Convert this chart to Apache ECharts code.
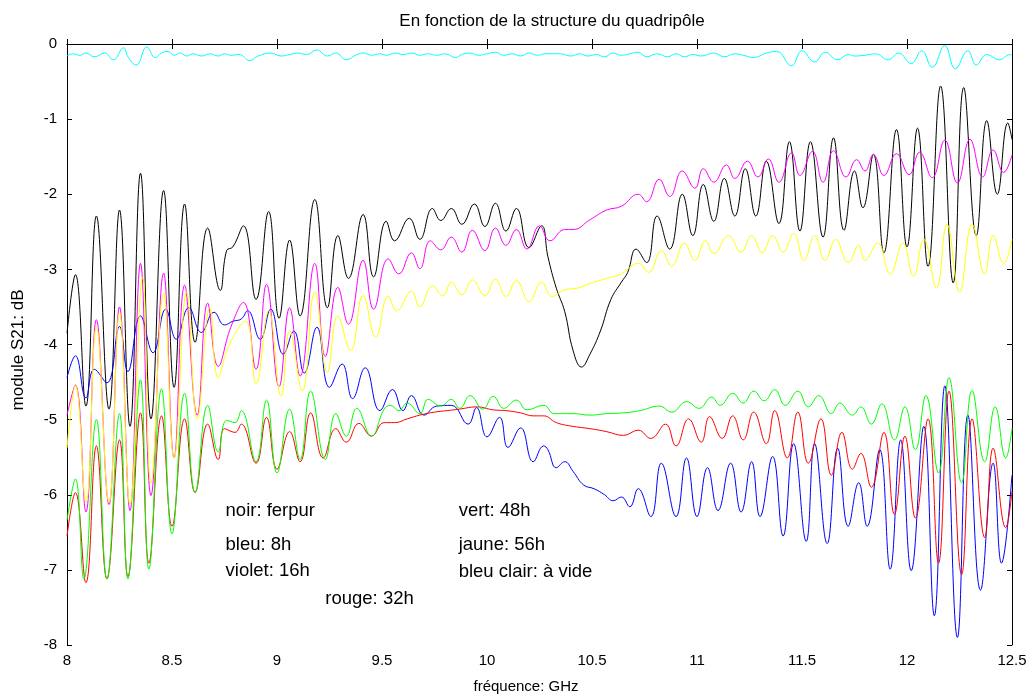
<!DOCTYPE html>
<html>
<head>
<meta charset="utf-8">
<script src="https://cdn.jsdelivr.net/npm/echarts@6/dist/echarts.min.js"></script>
<style>
  html, body { margin: 0; padding: 0; background: #ffffff; }
  #chart { width: 1035px; height: 697px; }
</style>
</head>
<body>
<div id="chart"></div>
<script>
// S21 magnitude (dB) versus frequency (GHz), one curve per sample
const xTicks = [8, 8.5, 9, 9.5, 10, 10.5, 11, 11.5, 12, 12.5];
const yTicks = [0, -1, -2, -3, -4, -5, -6, -7, -8];

// noir: ferpur
const noir = [[8.00,-3.85],[8.04,-3.07],[8.09,-4.82],[8.14,-2.29],[8.20,-4.86],[8.25,-2.21],[8.30,-5.09],[8.35,-1.72],[8.40,-4.99],[8.46,-1.95],[8.51,-4.57],[8.56,-2.13],[8.61,-3.97],[8.67,-2.45],[8.73,-3.28],[8.76,-2.75],[8.79,-2.70],[8.84,-2.42],[8.90,-3.40],[8.96,-2.23],[9.01,-3.65],[9.06,-2.61],[9.11,-3.62],[9.18,-2.07],[9.24,-3.51],[9.29,-2.55],[9.34,-3.12],[9.41,-2.27],[9.46,-3.10],[9.52,-2.36],[9.56,-2.62],[9.63,-2.32],[9.68,-2.60],[9.74,-2.19],[9.78,-2.35],[9.83,-2.19],[9.88,-2.40],[9.94,-2.13],[9.99,-2.43],[10.04,-2.12],[10.09,-2.49],[10.14,-2.19],[10.20,-2.71],[10.26,-2.42],[10.29,-2.83],[10.33,-3.25],[10.37,-3.56],[10.41,-4.08],[10.45,-4.30],[10.49,-4.13],[10.54,-3.82],[10.59,-3.40],[10.64,-3.17],[10.67,-3.04],[10.71,-2.73],[10.76,-2.91],[10.81,-2.29],[10.87,-2.73],[10.93,-2.00],[10.98,-2.55],[11.03,-1.87],[11.08,-2.36],[11.13,-1.79],[11.18,-2.29],[11.23,-1.66],[11.28,-2.29],[11.33,-1.56],[11.39,-2.39],[11.44,-1.30],[11.49,-2.49],[11.54,-1.30],[11.60,-2.57],[11.65,-1.25],[11.70,-2.48],[11.75,-1.69],[11.79,-2.18],[11.84,-1.47],[11.89,-2.78],[11.95,-1.14],[12.00,-2.70],[12.05,-1.12],[12.10,-2.96],[12.16,-0.56],[12.22,-3.18],[12.27,-0.58],[12.33,-2.55],[12.38,-1.02],[12.43,-2.00],[12.48,-1.05],[12.50,-1.27]];

// bleu: 8h
const bleu = [[8.00,-4.44],[8.04,-4.15],[8.09,-4.71],[8.13,-4.33],[8.19,-4.51],[8.25,-3.76],[8.29,-4.36],[8.35,-3.62],[8.41,-4.11],[8.47,-3.53],[8.52,-3.93],[8.58,-3.51],[8.64,-3.84],[8.70,-3.57],[8.75,-3.74],[8.79,-3.69],[8.83,-3.66],[8.86,-3.55],[8.92,-3.93],[8.97,-3.53],[9.03,-4.13],[9.08,-3.82],[9.13,-4.38],[9.19,-3.77],[9.25,-4.57],[9.31,-4.26],[9.36,-4.72],[9.42,-4.31],[9.49,-4.88],[9.55,-4.60],[9.60,-4.88],[9.64,-4.68],[9.70,-4.94],[9.76,-4.82],[9.83,-4.81],[9.91,-5.06],[9.95,-4.84],[10.00,-5.23],[10.06,-4.97],[10.10,-5.37],[10.16,-5.11],[10.22,-5.56],[10.27,-5.35],[10.29,-5.40],[10.33,-5.64],[10.37,-5.56],[10.41,-5.69],[10.46,-5.87],[10.51,-5.92],[10.56,-6.00],[10.60,-6.08],[10.64,-6.03],[10.68,-6.16],[10.72,-5.92],[10.78,-6.29],[10.83,-5.58],[10.90,-6.29],[10.95,-5.51],[11.00,-6.29],[11.05,-5.64],[11.10,-6.21],[11.16,-5.58],[11.21,-6.23],[11.26,-5.56],[11.30,-6.29],[11.36,-5.49],[11.41,-6.55],[11.46,-5.32],[11.52,-6.62],[11.56,-5.32],[11.62,-6.65],[11.67,-5.38],[11.72,-6.42],[11.77,-5.84],[11.81,-6.42],[11.87,-5.40],[11.92,-6.99],[11.97,-5.27],[12.02,-7.01],[12.08,-5.09],[12.13,-7.61],[12.18,-4.55],[12.24,-7.90],[12.29,-4.94],[12.35,-7.27],[12.41,-5.58],[12.45,-6.91],[12.50,-5.74]];

// violet: 16h
const violet = [[8.00,-4.94],[8.04,-4.54],[8.09,-6.23],[8.14,-3.67],[8.20,-6.13],[8.25,-3.50],[8.30,-6.21],[8.35,-2.92],[8.40,-6.01],[8.46,-3.05],[8.51,-5.51],[8.56,-3.21],[8.62,-4.94],[8.67,-3.45],[8.72,-4.29],[8.78,-3.77],[8.84,-3.44],[8.90,-4.33],[8.95,-3.20],[9.01,-4.56],[9.06,-3.51],[9.11,-4.42],[9.18,-2.92],[9.23,-4.16],[9.29,-3.24],[9.34,-3.73],[9.41,-2.88],[9.46,-3.53],[9.53,-2.86],[9.58,-3.06],[9.64,-2.78],[9.68,-2.99],[9.73,-2.62],[9.78,-2.74],[9.83,-2.57],[9.88,-2.77],[9.93,-2.48],[9.99,-2.75],[10.04,-2.45],[10.09,-2.68],[10.14,-2.47],[10.19,-2.73],[10.25,-2.42],[10.30,-2.62],[10.37,-2.47],[10.41,-2.47],[10.49,-2.34],[10.57,-2.21],[10.64,-2.16],[10.72,-2.00],[10.76,-2.10],[10.82,-1.80],[10.87,-2.03],[10.93,-1.69],[10.99,-1.92],[11.03,-1.66],[11.08,-1.84],[11.14,-1.61],[11.18,-1.79],[11.24,-1.56],[11.29,-1.77],[11.34,-1.53],[11.39,-1.84],[11.45,-1.45],[11.49,-1.75],[11.55,-1.43],[11.60,-1.84],[11.65,-1.42],[11.71,-1.77],[11.76,-1.54],[11.80,-1.69],[11.84,-1.47],[11.89,-1.75],[11.95,-1.46],[12.01,-1.74],[12.06,-1.44],[12.12,-1.78],[12.18,-1.28],[12.24,-1.85],[12.30,-1.27],[12.36,-1.77],[12.41,-1.41],[12.46,-1.71],[12.50,-1.48]];

// rouge: 32h
const rouge = [[8.00,-6.55],[8.04,-5.97],[8.09,-7.17],[8.14,-5.35],[8.19,-7.12],[8.25,-5.27],[8.29,-7.09],[8.35,-4.91],[8.39,-6.91],[8.45,-4.95],[8.50,-6.42],[8.56,-4.99],[8.61,-5.97],[8.67,-5.06],[8.72,-5.53],[8.75,-5.12],[8.80,-5.17],[8.83,-5.06],[8.90,-5.58],[8.95,-4.97],[9.00,-5.66],[9.06,-5.16],[9.11,-5.56],[9.16,-4.91],[9.22,-5.51],[9.28,-5.12],[9.33,-5.30],[9.39,-5.05],[9.45,-5.22],[9.51,-5.04],[9.56,-5.04],[9.62,-4.99],[9.68,-4.94],[9.75,-4.90],[9.81,-4.88],[9.87,-4.86],[9.95,-4.83],[10.03,-4.87],[10.09,-4.88],[10.16,-4.91],[10.22,-4.95],[10.27,-4.95],[10.33,-5.04],[10.41,-5.09],[10.49,-5.12],[10.57,-5.16],[10.65,-5.21],[10.72,-5.14],[10.78,-5.25],[10.85,-5.06],[10.90,-5.35],[10.96,-4.99],[11.02,-5.30],[11.06,-4.96],[11.12,-5.25],[11.17,-4.95],[11.22,-5.27],[11.27,-4.90],[11.33,-5.32],[11.37,-4.88],[11.43,-5.51],[11.48,-4.90],[11.53,-5.58],[11.59,-4.99],[11.64,-5.74],[11.69,-5.17],[11.74,-5.66],[11.78,-5.45],[11.83,-5.90],[11.89,-5.17],[11.94,-6.26],[11.99,-5.22],[12.04,-6.31],[12.10,-4.99],[12.15,-6.91],[12.20,-4.62],[12.26,-7.06],[12.31,-4.99],[12.37,-6.57],[12.41,-5.38],[12.47,-6.44],[12.50,-5.95]];

// vert: 48h
const vert = [[8.00,-6.34],[8.04,-5.79],[8.08,-7.12],[8.14,-5.00],[8.19,-7.12],[8.25,-4.92],[8.29,-7.12],[8.35,-4.47],[8.39,-6.99],[8.45,-4.59],[8.50,-6.52],[8.56,-4.65],[8.61,-5.97],[8.67,-4.81],[8.72,-5.43],[8.76,-5.01],[8.80,-5.04],[8.83,-4.88],[8.90,-5.56],[8.95,-4.74],[9.00,-5.71],[9.06,-4.86],[9.11,-5.53],[9.16,-4.62],[9.23,-5.53],[9.28,-4.92],[9.33,-5.22],[9.38,-4.85],[9.45,-5.22],[9.51,-4.86],[9.54,-4.81],[9.58,-4.88],[9.62,-4.78],[9.68,-4.92],[9.72,-4.73],[9.78,-4.82],[9.83,-4.73],[9.87,-4.85],[9.92,-4.68],[9.98,-4.86],[10.03,-4.69],[10.08,-4.85],[10.14,-4.74],[10.19,-4.87],[10.27,-4.81],[10.32,-4.92],[10.41,-4.92],[10.49,-4.94],[10.57,-4.92],[10.65,-4.91],[10.73,-4.88],[10.82,-4.82],[10.88,-4.90],[10.95,-4.76],[11.01,-4.85],[11.07,-4.70],[11.11,-4.81],[11.17,-4.65],[11.22,-4.78],[11.27,-4.62],[11.32,-4.75],[11.37,-4.60],[11.42,-4.81],[11.48,-4.62],[11.53,-4.83],[11.58,-4.68],[11.64,-4.92],[11.68,-4.78],[11.74,-4.94],[11.78,-4.83],[11.83,-5.06],[11.88,-4.79],[11.94,-5.27],[11.99,-4.83],[12.04,-5.40],[12.09,-4.68],[12.15,-5.71],[12.20,-4.44],[12.26,-5.84],[12.31,-4.61],[12.37,-5.56],[12.42,-4.83],[12.47,-5.51],[12.50,-5.12]];

// jaune: 56h
const jaune = [[8.00,-5.38],[8.04,-4.55],[8.09,-6.10],[8.14,-3.77],[8.20,-6.10],[8.25,-3.58],[8.30,-6.13],[8.36,-3.10],[8.40,-5.84],[8.46,-3.32],[8.51,-5.51],[8.57,-3.30],[8.62,-4.99],[8.68,-3.51],[8.72,-4.44],[8.77,-4.02],[8.85,-3.69],[8.90,-4.53],[8.96,-3.55],[9.02,-4.69],[9.06,-3.82],[9.12,-4.62],[9.18,-3.30],[9.24,-4.37],[9.29,-3.62],[9.35,-4.08],[9.41,-3.35],[9.47,-3.90],[9.53,-3.36],[9.57,-3.55],[9.64,-3.29],[9.68,-3.50],[9.74,-3.22],[9.79,-3.35],[9.83,-3.17],[9.88,-3.34],[9.93,-3.14],[9.99,-3.35],[10.04,-3.13],[10.09,-3.36],[10.14,-3.15],[10.20,-3.43],[10.26,-3.17],[10.31,-3.36],[10.37,-3.27],[10.43,-3.25],[10.49,-3.19],[10.57,-3.12],[10.64,-3.06],[10.72,-2.92],[10.77,-3.04],[10.83,-2.75],[10.88,-2.96],[10.94,-2.65],[10.99,-2.88],[11.04,-2.62],[11.08,-2.79],[11.15,-2.55],[11.21,-2.77],[11.26,-2.55],[11.31,-2.78],[11.36,-2.55],[11.41,-2.77],[11.46,-2.52],[11.51,-2.88],[11.56,-2.55],[11.61,-2.88],[11.66,-2.60],[11.72,-2.91],[11.77,-2.68],[11.80,-2.88],[11.86,-2.65],[11.92,-3.06],[11.98,-2.65],[12.03,-3.09],[12.08,-2.60],[12.14,-3.25],[12.19,-2.40],[12.25,-3.30],[12.31,-2.40],[12.37,-3.06],[12.41,-2.55],[12.46,-2.92],[12.50,-2.60]];

// bleu clair: à vide
const bleuClair = [[8.00,-0.16],[8.03,-0.13],[8.06,-0.15],[8.09,-0.12],[8.13,-0.17],[8.18,-0.12],[8.22,-0.21],[8.27,-0.05],[8.29,-0.17],[8.33,-0.28],[8.38,-0.04],[8.42,-0.18],[8.45,-0.12],[8.48,-0.10],[8.51,-0.15],[8.54,-0.12],[8.57,-0.16],[8.60,-0.13],[8.64,-0.16],[8.68,-0.13],[8.72,-0.16],[8.75,-0.13],[8.78,-0.15],[8.82,-0.14],[8.87,-0.22],[8.91,-0.16],[8.97,-0.12],[9.02,-0.16],[9.06,-0.14],[9.10,-0.12],[9.14,-0.14],[9.19,-0.08],[9.24,-0.16],[9.28,-0.12],[9.33,-0.21],[9.38,-0.14],[9.41,-0.12],[9.45,-0.15],[9.49,-0.13],[9.52,-0.15],[9.56,-0.12],[9.60,-0.14],[9.64,-0.12],[9.68,-0.15],[9.72,-0.13],[9.76,-0.15],[9.80,-0.13],[9.85,-0.18],[9.88,-0.14],[9.92,-0.12],[9.96,-0.15],[10.00,-0.13],[10.04,-0.11],[10.08,-0.15],[10.12,-0.13],[10.16,-0.16],[10.20,-0.12],[10.24,-0.15],[10.28,-0.13],[10.35,-0.13],[10.40,-0.16],[10.44,-0.13],[10.48,-0.16],[10.52,-0.14],[10.56,-0.17],[10.60,-0.12],[10.64,-0.15],[10.68,-0.13],[10.72,-0.11],[10.76,-0.17],[10.81,-0.13],[10.86,-0.17],[10.90,-0.13],[10.94,-0.17],[10.98,-0.14],[11.02,-0.16],[11.08,-0.12],[11.13,-0.17],[11.18,-0.13],[11.22,-0.15],[11.27,-0.18],[11.33,-0.12],[11.38,-0.10],[11.45,-0.29],[11.50,-0.09],[11.56,-0.24],[11.61,-0.11],[11.67,-0.21],[11.72,-0.14],[11.75,-0.16],[11.80,-0.15],[11.85,-0.13],[11.91,-0.21],[11.96,-0.12],[12.02,-0.26],[12.07,-0.09],[12.12,-0.31],[12.18,-0.02],[12.23,-0.33],[12.29,-0.09],[12.33,-0.28],[12.38,-0.14],[12.44,-0.21],[12.49,-0.14],[12.50,-0.15]];

// in-plot captions and where they sit, in (GHz, dB)
const captions = ['noir: ferpur', 'bleu: 8h', 'violet: 16h', 'rouge: 32h', 'vert: 48h', 'jaune: 56h', 'bleu clair: à vide'];
const captionAt = [[8.755,-6.22],[8.755,-6.67],[8.755,-7.01],[9.23,-7.39],[9.865,-6.22],[9.865,-6.67],[9.865,-7.03]];

const FONT = 'Liberation Sans, Arial, sans-serif';
const chart = echarts.init(document.getElementById('chart'), null, { renderer: 'canvas' });

const curves = [
  { name: 'noir', data: noir, color: '#000000' },
  { name: 'bleu', data: bleu, color: '#0000ff' },
  { name: 'violet', data: violet, color: '#ff00ff' },
  { name: 'rouge', data: rouge, color: '#ff0000' },
  { name: 'vert', data: vert, color: '#00ff00' },
  { name: 'jaune', data: jaune, color: '#ffff00' },
  { name: 'bleu clair', data: bleuClair, color: '#00ffff' }
];

const axisCommon = {
  type: 'value',
  axisLine: { show: true, lineStyle: { color: '#000', width: 1 } },
  axisTick: { show: true, inside: true, length: 5, lineStyle: { color: '#000', width: 1 } },
  splitLine: { show: false }
};

chart.setOption({
  animation: false,
  backgroundColor: '#ffffff',
  grid: { left: 67, top: 44, right: 23, bottom: 52, containLabel: false },
  xAxis: [
    Object.assign({}, axisCommon, {
      position: 'bottom', min: xTicks[0], max: xTicks[xTicks.length - 1], interval: 0.5,
      axisLabel: { show: true, color: '#000', fontFamily: FONT, fontSize: 15, margin: 8,
        formatter: v => String(v) }
    }),
    Object.assign({}, axisCommon, {
      position: 'top', min: xTicks[0], max: xTicks[xTicks.length - 1], interval: 0.5,
      axisLabel: { show: false }
    })
  ],
  yAxis: [
    Object.assign({}, axisCommon, {
      position: 'left', min: yTicks[yTicks.length - 1], max: yTicks[0], interval: 1,
      axisLabel: { show: true, color: '#000', fontFamily: FONT, fontSize: 15, margin: 10 }
    }),
    Object.assign({}, axisCommon, {
      position: 'right', min: yTicks[yTicks.length - 1], max: yTicks[0], interval: 1,
      axisLabel: { show: false }
    })
  ],
  series: curves.map(c => ({
    name: c.name,
    type: 'line',
    data: c.data,
    xAxisIndex: 0,
    yAxisIndex: 0,
    showSymbol: false,
    smooth: 0.45,
    clip: true,
    lineStyle: { color: c.color, width: 1 },
    emphasis: { disabled: true }
  }))
});

// title, axis names and captions
const g = [];
g.push({ type: 'text', x: 552, y: 21, style: {
  text: 'En fonction de la structure du quadripôle', fill: '#000', font: '17px ' + FONT,
  textAlign: 'center', textVerticalAlign: 'middle' } });
g.push({ type: 'text', x: 526, y: 687, style: {
  text: 'fréquence: GHz', fill: '#000', font: '15px ' + FONT,
  textAlign: 'center', textVerticalAlign: 'middle' } });
g.push({ type: 'text', x: 18, y: 350, rotation: Math.PI / 2, style: {
  text: 'module S21: dB', fill: '#000', font: '17px ' + FONT,
  textAlign: 'center', textVerticalAlign: 'middle' } });
captions.forEach((t, i) => {
  const p = chart.convertToPixel({ gridIndex: 0 }, captionAt[i]);
  g.push({ type: 'text', x: p[0], y: p[1], style: {
    text: t, fill: '#000', font: '18.5px ' + FONT, textAlign: 'left', textVerticalAlign: 'middle' } });
});
chart.setOption({ graphic: g });
</script>
</body>
</html>
